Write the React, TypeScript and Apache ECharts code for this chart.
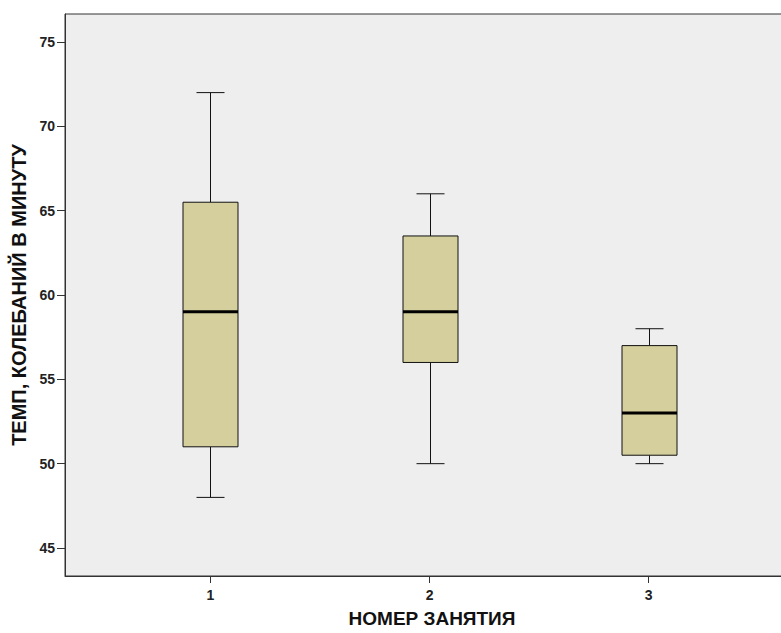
import React, { useEffect, useRef } from "react";
import * as echarts from "echarts";

const categories = [1, 2, 3];
const whiskerLow = [48, 50, 50];
const q1 = [51, 56, 50.5];
const median = [59, 59, 53];
const q3 = [65.5, 63.5, 57];
const whiskerHigh = [72, 66, 58];
const yTicks = [45, 50, 55, 60, 65, 70, 75];

const boxData = categories.map((c, i) => [c, whiskerLow[i], q1[i], median[i], q3[i], whiskerHigh[i]]);

export default function App() {
  const ref = useRef<HTMLDivElement>(null);
  useEffect(() => {
    const chart = echarts.init(ref.current!, null, { renderer: "svg" });
    const font = "'Liberation Sans', Arial, sans-serif";
    chart.setOption({
      animation: false,
      grid: {
        left: 65,
        top: 14,
        right: -2,
        bottom: 57,
        containLabel: false,
        outerBoundsMode: "none",
        show: true,
        backgroundColor: "#eeeeee",
        borderColor: "#333333",
        borderWidth: 1,
      },
      xAxis: {
        type: "value",
        min: 0.336,
        max: 3.613,
        name: "НОМЕР ЗАНЯТИЯ",
        nameLocation: "middle",
        nameGap: 33,
        nameTextStyle: {
          fontFamily: font,
          fontWeight: "bold",
          fontSize: 19,
          color: "#111",
          padding: [0, 0, 0, 16],
        },
        splitLine: { show: false },
        axisLine: { show: true, lineStyle: { color: "#333", width: 1 } },
        axisTick: { show: true, customValues: categories, length: 7, lineStyle: { color: "#333" } },
        axisLabel: {
          customValues: categories,
          margin: 12,
          fontFamily: font,
          fontWeight: "bold",
          fontSize: 14,
          color: "#222",
        },
      },
      yAxis: {
        type: "value",
        min: 43.34,
        max: 76.66,
        name: "ТЕМП, КОЛЕБАНИЙ В МИНУТУ",
        nameLocation: "middle",
        nameGap: 34,
        nameTextStyle: { fontFamily: font, fontWeight: "bold", fontSize: 20, color: "#111" },
        splitLine: { show: false },
        axisLine: { show: true, lineStyle: { color: "#333", width: 1 } },
        axisTick: { show: true, customValues: yTicks, length: 8, lineStyle: { color: "#333" } },
        axisLabel: {
          customValues: yTicks,
          margin: 10,
          fontFamily: font,
          fontWeight: "bold",
          fontSize: 14,
          color: "#222",
        },
      },
      series: [
        {
          type: "custom",
          data: boxData,
          clip: false,
          renderItem: (params: any, api: any) => {
            const x = api.value(0);
            const lo = api.coord([x, api.value(1)]);
            const b1 = api.coord([x, api.value(2)]);
            const md = api.coord([x, api.value(3)]);
            const b3 = api.coord([x, api.value(4)]);
            const hi = api.coord([x, api.value(5)]);
            const cx = Math.round(lo[0]) + 0.5;
            const hw = 27.5;
            const cw = 14;
            const ls = { stroke: "#111", lineWidth: 1 };
            return {
              type: "group",
              children: [
                { type: "line", shape: { x1: cx, y1: hi[1], x2: cx, y2: b3[1] }, style: ls },
                { type: "line", shape: { x1: cx, y1: b1[1], x2: cx, y2: lo[1] }, style: ls },
                { type: "line", shape: { x1: cx - cw, y1: hi[1], x2: cx + cw, y2: hi[1] }, style: ls },
                { type: "line", shape: { x1: cx - cw, y1: lo[1], x2: cx + cw, y2: lo[1] }, style: ls },
                {
                  type: "rect",
                  shape: { x: cx - hw, y: b3[1], width: hw * 2, height: b1[1] - b3[1] },
                  style: { fill: "#d4cf9c", stroke: "#111", lineWidth: 1 },
                },
                {
                  type: "line",
                  shape: { x1: cx - hw, y1: md[1], x2: cx + hw, y2: md[1] },
                  style: { stroke: "#000", lineWidth: 3 },
                },
              ],
            };
          },
        },
      ],
    });
    return () => chart.dispose();
  }, []);
  return (
    <div
      ref={ref}
      style={{ position: "fixed", left: 0, top: 0, width: 781, height: 633, background: "#fff" }}
    />
  );
}
